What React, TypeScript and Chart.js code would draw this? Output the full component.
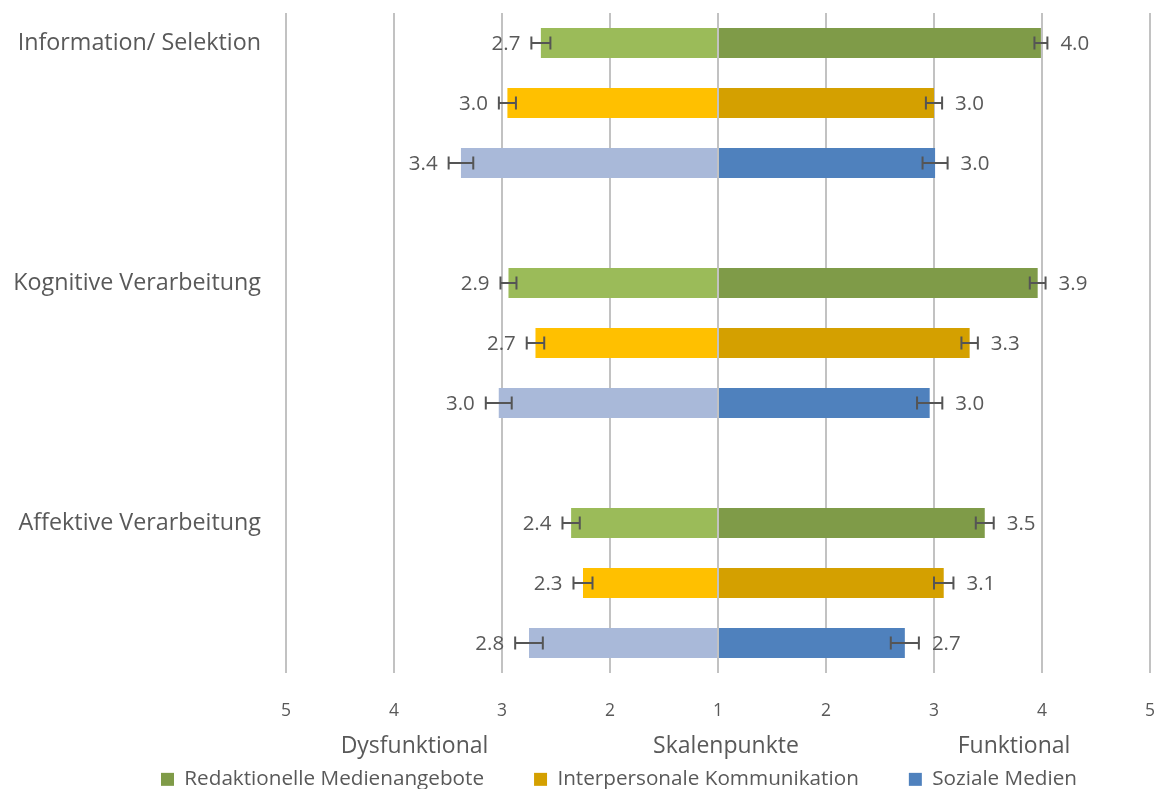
import React, { useEffect, useRef } from "react";
import { Chart, registerables } from "chart.js";

Chart.register(...registerables);

// ---------- data ----------
const groups = ["Information/ Selektion", "Kognitive Verarbeitung", "Affektive Verarbeitung"];
const media = ["Redaktionelle Medienangebote", "Interpersonale Kommunikation", "Soziale Medien"];

// scale points (1 = centre, 5 = outer end)
const redaktionellDys = [2.64, 2.94, 2.36];
const redaktionellFun = [3.99, 3.96, 3.47];
const interpersonalDys = [2.95, 2.69, 2.25];
const interpersonalFun = [3.0, 3.33, 3.09];
const sozialDys = [3.38, 3.03, 2.75];
const sozialFun = [3.01, 2.96, 2.73];

// shown value labels
const redaktionellDysLabels = ["2.7", "2.9", "2.4"];
const redaktionellFunLabels = ["4.0", "3.9", "3.5"];
const interpersonalDysLabels = ["3.0", "2.7", "2.3"];
const interpersonalFunLabels = ["3.0", "3.3", "3.1"];
const sozialDysLabels = ["3.4", "3.0", "2.8"];
const sozialFunLabels = ["3.0", "3.0", "2.7"];

// standard errors (scale points)
const redaktionellDysErr = [0.088, 0.074, 0.08];
const redaktionellFunErr = [0.06, 0.073, 0.083];
const interpersonalDysErr = [0.079, 0.081, 0.088];
const interpersonalFunErr = [0.075, 0.076, 0.09];
const sozialDysErr = [0.114, 0.12, 0.128];
const sozialFunErr = [0.116, 0.117, 0.13];

const xTickLabels = ["5", "4", "3", "2", "1", "2", "3", "4", "5"];
const axisTitles = ["Dysfunktional", "Skalenpunkte", "Funktional"];

// ---------- styles ----------
const FONT = "'Open Sans', sans-serif";
const TEXT = "#595959";
const dysColors = ["#9BBB59", "#FFC000", "#A9B9D9"];
const funColors = ["#7F9B48", "#D4A000", "#4F81BD"];

const ROWS_PER_GROUP = 4; // 3 bars + spacer
const rowCount = groups.length * ROWS_PER_GROUP - 1;

const categoryLabels: string[] = [];
for (let r = 0; r < rowCount; r++) {
  categoryLabels.push(r % ROWS_PER_GROUP === 0 ? groups[r / ROWS_PER_GROUP] : "");
}

function rows(vals: any[], m: number, map: (v: any) => any) {
  const arr: any[] = new Array(rowCount).fill(null);
  vals.forEach((v, g) => {
    arr[g * ROWS_PER_GROUP + m] = map(v);
  });
  return arr;
}

const seriesDys = [redaktionellDys, interpersonalDys, sozialDys];
const seriesFun = [redaktionellFun, interpersonalFun, sozialFun];
const labelsDys = [redaktionellDysLabels, interpersonalDysLabels, sozialDysLabels];
const labelsFun = [redaktionellFunLabels, interpersonalFunLabels, sozialFunLabels];
const errDys = [redaktionellDysErr, interpersonalDysErr, sozialDysErr];
const errFun = [redaktionellFunErr, interpersonalFunErr, sozialFunErr];

function buildDatasets() {
  const ds: any[] = [];
  media.forEach((name, m) => {
    ds.push({
      label: name,
      side: "dys",
      data: rows(seriesDys[m], m, (v) => -(v - 1)),
      errorValues: rows(errDys[m], m, (v) => v),
      valueLabels: rows(labelsDys[m], m, (v) => v),
      backgroundColor: dysColors[m],
      borderWidth: 0,
    });
    ds.push({
      label: name,
      side: "fun",
      data: rows(seriesFun[m], m, (v) => v - 1),
      errorValues: rows(errFun[m], m, (v) => v),
      valueLabels: rows(labelsFun[m], m, (v) => v),
      backgroundColor: funColors[m],
      borderWidth: 0,
    });
  });
  return ds;
}

const errorLabelPlugin = {
  id: "errorBarsAndLabels",
  afterDatasetsDraw(chart: any) {
    const { ctx } = chart;
    const xs = chart.scales.x;
    ctx.save();
    chart.data.datasets.forEach((ds: any, di: number) => {
      const meta = chart.getDatasetMeta(di);
      meta.data.forEach((bar: any, i: number) => {
        const v = ds.data[i];
        if (v === null || v === undefined) return;
        const err = ds.errorValues[i];
        const y = bar.y;
        const a = xs.getPixelForValue(v - err);
        const b = xs.getPixelForValue(v + err);
        const lo = Math.min(a, b);
        const hi = Math.max(a, b);
        ctx.strokeStyle = "#555555";
        ctx.lineWidth = 2;
        ctx.beginPath();
        ctx.moveTo(lo, y);
        ctx.lineTo(hi, y);
        ctx.moveTo(lo, y - 6.5);
        ctx.lineTo(lo, y + 6.5);
        ctx.moveTo(hi, y - 6.5);
        ctx.lineTo(hi, y + 6.5);
        ctx.stroke();
        ctx.font = `20.5px ${FONT}`;
        ctx.fillStyle = TEXT;
        ctx.textBaseline = "middle";
        if (v < 0) {
          ctx.textAlign = "right";
          ctx.fillText(ds.valueLabels[i], lo - 11, y + 1);
        } else {
          ctx.textAlign = "left";
          ctx.fillText(ds.valueLabels[i], hi + 13, y + 1);
        }
      });
    });
    ctx.restore();
  },
};

const axisTitlePlugin = {
  id: "axisTitles",
  afterDraw(chart: any) {
    const { ctx, chartArea } = chart;
    const y = chartArea.bottom + 73;
    ctx.save();
    ctx.font = `23px ${FONT}`;
    ctx.fillStyle = TEXT;
    ctx.textAlign = "center";
    ctx.textBaseline = "middle";
    ctx.fillText(axisTitles[0], chartArea.left + 128.5, y);
    ctx.fillText(axisTitles[1], (chartArea.left + chartArea.right) / 2 + 8, y);
    ctx.fillText(axisTitles[2], chartArea.right - 136, y);
    ctx.restore();
  },
};

// move the legend row down/right (its box keeps covering the drawn items)
const legendShiftPlugin = {
  id: "legendShift",
  afterLayout(chart: any) {
    const l = chart.legend;
    if (!l) return;
    l.top -= 40;
    l.left += 44;
    l.right += 44;
  },
};

export default function App() {
  const ref = useRef<HTMLCanvasElement | null>(null);

  useEffect(() => {
    if (!ref.current) return;
    const chart = new Chart(ref.current, {
      type: "bar",
      data: {
        labels: categoryLabels,
        datasets: buildDatasets(),
      },
      options: {
        indexAxis: "y",
        responsive: false,
        animation: false,
        events: [],
        layout: { padding: { left: 0, right: 12, top: 13, bottom: 0 } },
        datasets: {
          bar: { categoryPercentage: 1, barPercentage: 0.5 },
        },
        scales: {
          x: {
            type: "linear",
            stacked: true,
            min: -4,
            max: 4,
            grid: { color: "#C2C2C2", lineWidth: 2, drawTicks: false },
            border: { display: false },
            ticks: {
              stepSize: 1,
              padding: 28,
              color: TEXT,
              font: { family: FONT, size: 17.5 },
              callback: (_v: any, i: number) => xTickLabels[i],
            },
            afterFit: (s: any) => {
              s.height = 86;
              s.paddingLeft = 0;
              s.paddingRight = 0;
            },
          },
          y: {
            type: "category",
            stacked: true,
            grid: { display: false, drawTicks: false },
            border: { display: false },
            ticks: {
              autoSkip: false,
              padding: 25,
              color: TEXT,
              font: { family: FONT, size: 23.3 },
            },
            afterFit: (s: any) => {
              s.width = 286;
              s.paddingTop = 0;
              s.paddingBottom = 0;
            },
          },
        },
        plugins: {
          tooltip: { enabled: false },
          legend: {
            position: "bottom",
            maxHeight: 30,
            labels: {
              filter: (item: any, data: any) => data.datasets[item.datasetIndex].side === "fun",
              boxWidth: 13,
              boxHeight: 13,
              padding: 50,
              color: TEXT,
              font: { family: FONT, size: 20.7 },
            },
          },
        },
      } as any,
      plugins: [errorLabelPlugin, axisTitlePlugin, legendShiftPlugin],
    });
    return () => chart.destroy();
  }, []);

  return (
    <div style={{ position: "absolute", left: 0, top: 0, width: 1162, height: 789, background: "#fff" }}>
      <canvas ref={ref} width={1162} height={789} style={{ display: "block" }} />
    </div>
  );
}
